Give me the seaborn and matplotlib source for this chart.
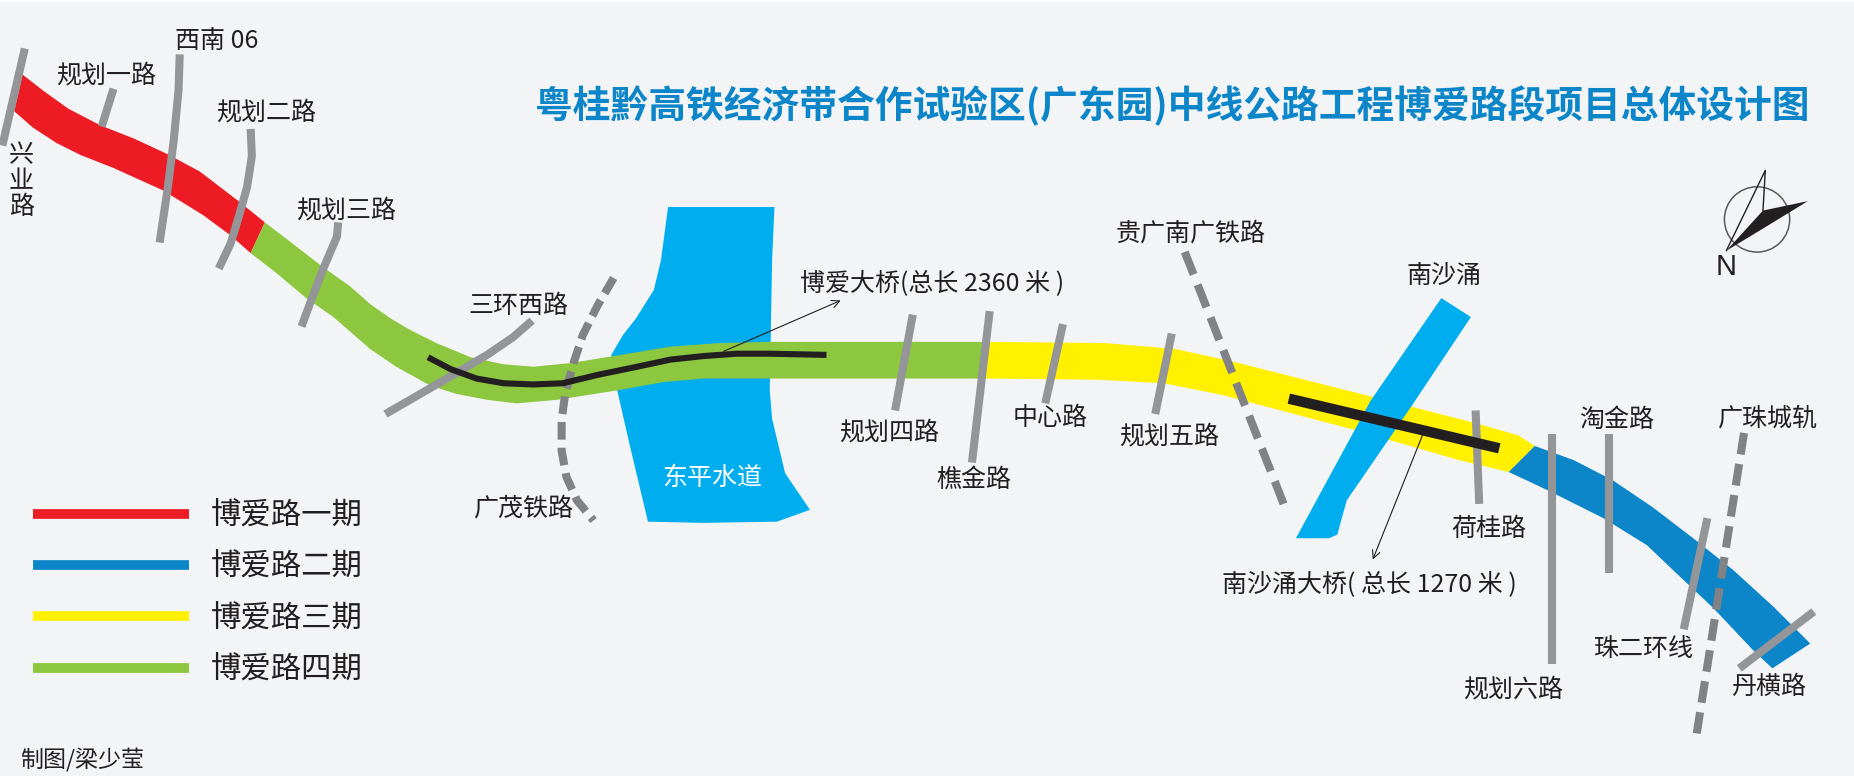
"""
route map of the Boai road project, drawn in pixel-like map coordinates
"""

import numpy as np
import pandas as pd
from matplotlib import pyplot as plt
from matplotlib.lines import Line2D
import seaborn as sns

# map extent
MAP_W = 1568
MAP_H = 656

BG = '#f2f4f6'
GREY = '#939598'
DARK_GREY = '#808285'
INK = '#231f20'
RED = '#ed1c24'
BLUE = '#0d86c9'
YELLOW = '#fff100'
GREEN = '#8dc63f'
WATER = '#00aeef'

# road sections (upper edge, lower edge)
red_upper_x = [19, 37, 58, 85, 113, 141, 169, 203, 224]
red_upper_y = [63, 77, 92, 106, 117, 130, 145, 171, 188]
red_lower_x = [12, 28, 48, 68, 96, 138, 172, 195, 212]
red_lower_y = [94, 108, 121, 131, 142, 161, 182, 199, 214]

green_upper_x = [224, 245, 272, 296, 313, 330, 347, 369, 398, 426, 451, 482, 519, 567, 609, 651, 836]
green_upper_y = [188, 204, 225, 242, 257, 269, 279, 290, 302, 308, 310, 307, 301, 293, 290, 289, 289]
green_lower_x = [212, 234, 259, 282, 313, 335, 364, 386, 412, 437, 471, 522, 561, 595, 651, 834]
green_lower_y = [214, 231, 252, 268, 295, 310, 326, 333, 338, 341, 338, 330, 323, 320, 320, 320]

yellow_upper_x = [834, 934, 994, 1044, 1159, 1249, 1284, 1298]
yellow_upper_y = [289, 290, 295, 306, 335, 358, 368, 377]
yellow_lower_x = [834, 929, 984, 1034, 1144, 1234, 1276]
yellow_lower_y = [320, 321, 324, 334, 363, 389, 399]

blue_upper_x = [1298, 1331, 1364, 1398, 1432, 1466, 1500, 1531]
blue_upper_y = [377, 389, 406, 429, 455, 482, 513, 544]
blue_lower_x = [1276, 1308, 1356, 1393, 1415, 1449, 1483, 1499]
blue_lower_y = [399, 414, 438, 461, 482, 514, 550, 565]

# waterways
dongping_x = [565, 655, 653, 652, 651, 653, 664, 685, 657, 595, 548, 533, 522, 517, 527, 538, 553, 559]
dongping_y = [175, 175, 220, 276, 330, 354, 400, 431, 441, 442, 441, 378, 330, 300, 283, 269, 245, 220]
nansha_x = [1219, 1244, 1194, 1139, 1131, 1124, 1096, 1159]
nansha_y = [252, 268, 343, 423, 452, 455, 455, 339]

# crossing roads
cross_roads = {
    '兴业路': ([21, 2], [41, 123]),
    '规划一路': ([96, 86], [75, 107]),
    '西南06': ([152, 151, 147, 142, 135], [46, 76, 118, 158, 205]),
    '规划二路': ([212, 213, 209, 202, 195, 185], [109, 132, 158, 183, 206, 227]),
    '规划三路': ([286, 285, 273, 262, 255], [188, 200, 228, 257, 276]),
    '三环西路': ([450, 434, 412, 383, 352, 326], [271, 285, 300, 317, 335, 350]),
    '规划四路': ([772, 757], [266, 347]),
    '樵金路': ([837, 822], [263, 391]),
    '中心路': ([899, 884], [274, 341]),
    '规划五路': ([991, 977], [282, 350]),
    '荷桂路': ([1248, 1251], [347, 426]),
    '规划六路': ([1313, 1313], [367, 561]),
    '淘金路': ([1361, 1361], [367, 484]),
    '珠二环线': ([1444, 1424], [438, 532]),
    '丹横路': ([1534, 1471], [517, 565]),
}

# railways
railways = {
    '广茂铁路': ([519, 505, 493, 485, 478, 475, 475, 479, 488, 502],
             [235, 259, 283, 307, 333, 355, 381, 403, 423, 440]),
    '贵广南广铁路': ([1002, 1086], [213, 427]),
    '广珠城轨': ([1475, 1435], [366, 620]),
}
RAIL_DASHES = {'广茂铁路': (2.2, 1.0), '贵广南广铁路': (3.0, 1.37), '广珠城轨': (2.7, 1.2)}

# bridges
boai_bridge_x = [362, 381, 403, 426, 451, 476, 505, 539, 567, 595, 623, 651, 699]
boai_bridge_y = [302, 312, 320, 324, 325, 324, 317, 310, 304, 301, 299, 299, 300]
nansha_bridge_x = [1090, 1268]
nansha_bridge_y = [337, 379]

# compass
needle_x = [1460, 1491, 1529, 1493]
needle_y = [212, 178, 170, 192]
pointer_x = [1460, 1493, 1491]
pointer_y = [212, 144, 178]

TITLE = '粤桂黔高铁经济带合作试验区(广东园)中线公路工程博爱路段项目总体设计图'
phase_labels = ['博爱路一期', '博爱路二期', '博爱路三期', '博爱路四期']
phase_colors = [RED, BLUE, YELLOW, GREEN]

labels = ['规划一路', '西南 06', '规划二路', '兴\n业\n路', '规划三路', '三环西路', '广茂铁路',
          '博爱大桥(总长 2360 米 )', '规划四路', '樵金路', '中心路', '规划五路', '贵广南广铁路',
          '南沙涌', '南沙涌大桥( 总长 1270 米 )', '荷桂路', '淘金路', '广珠城轨', '珠二环线',
          '规划六路', '丹横路']
labels_x = [90, 183, 225, 18, 293, 438, 443, 788, 752, 824, 888, 989, 1007,
            1221, 1158, 1259, 1367, 1495, 1390, 1280, 1496]
labels_y = [64, 35, 95, 153, 178, 259, 430, 239, 366, 406, 353, 369, 197,
            233, 494, 447, 355, 354, 549, 583, 581]


def draw_line(ax, x, y, **kws):
    df = pd.DataFrame({'x': x, 'y': y})
    sns.lineplot(data=df, x='x', y='y', sort=False, estimator=None, ax=ax, legend=False, **kws)


sns.set_theme(style='white')
plt.rcParams['font.family'] = ['Noto Sans CJK SC', 'DejaVu Sans']
plt.close('all')

fig = plt.figure(figsize=(18.54, 7.76), dpi=100, facecolor=BG)
ax = fig.add_axes([0, 0, 1, 1])
ax.set_xlim(0, MAP_W)
ax.set_ylim(MAP_H, 0)
ax.set_axis_off()

ax.axhspan(0, 1.5, color='#fafbfb', lw=0)

# water below the green section, the other river runs over the yellow one
ax.fill(dongping_x, dongping_y, color=WATER, lw=0, zorder=1)

sections = [
    (red_upper_x, red_upper_y, red_lower_x, red_lower_y, RED),
    (green_upper_x, green_upper_y, green_lower_x, green_lower_y, GREEN),
    (yellow_upper_x, yellow_upper_y, yellow_lower_x, yellow_lower_y, YELLOW),
    (blue_upper_x, blue_upper_y, blue_lower_x, blue_lower_y, BLUE),
]
for ux, uy, lx, ly, color in sections:
    ax.fill(ux + lx[::-1], uy + ly[::-1], color=color, lw=0, zorder=2)

ax.fill(nansha_x, nansha_y, color=WATER, lw=0, zorder=3)

for name, (x, y) in cross_roads.items():
    draw_line(ax, x, y, color=GREY, linewidth=5.8, solid_capstyle='butt', solid_joinstyle='round', zorder=4)
for name, (x, y) in railways.items():
    draw_line(ax, x, y, color=DARK_GREY, linewidth=5.8, linestyle=(0, RAIL_DASHES[name]),
              dash_capstyle='butt', dash_joinstyle='round', zorder=4)

draw_line(ax, boai_bridge_x, boai_bridge_y, color=INK, linewidth=4.4, solid_capstyle='butt',
          solid_joinstyle='round', zorder=5)
draw_line(ax, nansha_bridge_x, nansha_bridge_y, color=INK, linewidth=7.5, solid_capstyle='butt', zorder=5)

# callout arrows
arrow = dict(arrowstyle='->', color=INK, lw=0.8, mutation_scale=14, shrinkA=0, shrinkB=0)
ax.annotate('', xy=(711, 254), xytext=(612, 297), arrowprops=arrow, zorder=6)
ax.annotate('', xy=(1161, 473), xytext=(1203, 368), arrowprops=arrow, zorder=6)

# compass
ax.add_patch(plt.Circle((1486, 185.5), 27.6, fill=False, ec='#58595b', lw=1.1, zorder=6))
ax.fill(needle_x, needle_y, color=INK, lw=0, zorder=7)
draw_line(ax, pointer_x, pointer_y, color=INK, linewidth=1, zorder=7)
ax.text(1460, 226, 'N', fontsize=21, color=INK, ha='center', va='center', family=['Liberation Sans'])

# text
for label, x, y in zip(labels, labels_x, labels_y):
    ax.text(x, y, label, fontsize=18, color=INK, ha='center', va='center', linespacing=1.0, zorder=8)
ax.text(602, 404, '东平水道', fontsize=18, color='white', ha='center', va='center', zorder=8)
ax.text(17, 643, '制图/梁少莹', fontsize=16.6, color=INK, ha='left', va='center')
ax.text(991, 90, TITLE, fontsize=27.2, fontweight='bold', color=BLUE, ha='center', va='center')

# legend
handles = [Line2D([], [], color=c, lw=7, solid_capstyle='butt', label=l)
           for c, l in zip(phase_colors, phase_labels)]
ax.legend(handles=handles, loc='upper left', bbox_to_anchor=(27.5, 423), bbox_transform=ax.transData,
          frameon=False, fontsize=21.9, handlelength=5.16, handletextpad=0.69, labelspacing=0.67,
          borderpad=0, borderaxespad=0, labelcolor=INK)

fig.savefig('out.png', dpi=100, facecolor=BG)
